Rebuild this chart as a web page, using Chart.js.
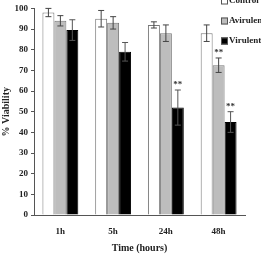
<!DOCTYPE html>
<html>
<head>
<meta charset="utf-8">
<script src="https://cdn.jsdelivr.net/npm/chart.js@4.4.0/dist/chart.umd.min.js"></script>
<style>
    html, body { margin: 0; padding: 0; background: #fff; }
    #wrap { width: 261px; height: 256px; }
</style>
</head>
<body>
<div id="wrap"><canvas id="chart" width="261" height="256"></canvas></div>
<script>
// Data
const timePoints = ['1h', '5h', '24h', '48h'];
const controlValues = [98, 95, 92, 88];
const avirulentValues = [94, 93, 88, 72.5];
const virulentValues = [89.5, 79, 52, 45];
const controlErrors = [2, 4, 1.5, 4];
const avirulentErrors = [2.5, 3, 4, 3.5];
const virulentErrors = [5, 4.5, 8.5, 5];
const controlSig = [false, false, false, false];
const avirulentSig = [false, false, false, true];
const virulentSig = [false, false, true, true];
const yTicks = [0, 10, 20, 30, 40, 50, 60, 70, 80, 90, 100];

const serif = '"Liberation Serif", "DejaVu Serif", serif';
const errors = [controlErrors, avirulentErrors, virulentErrors];
const sigs = [controlSig, avirulentSig, virulentSig];

// Error bars and ** markers
const errorBars = {
    id: 'errorBars',
    afterDatasetsDraw(chart) {
        const ctx = chart.ctx;
        const y = chart.scales.y;
        ctx.save();
        chart.data.datasets.forEach((ds, i) => {
            const meta = chart.getDatasetMeta(i);
            meta.data.forEach((bar, j) => {
                const v = ds.data[j];
                const e = errors[i][j];
                const top = y.getPixelForValue(v + e);
                const bot = y.getPixelForValue(v - e);
                ctx.strokeStyle = i === 2 ? '#555' : '#444';
                ctx.lineWidth = 1;
                ctx.beginPath();
                ctx.moveTo(bar.x, top);
                ctx.lineTo(bar.x, bot);
                ctx.moveTo(bar.x - 3, top);
                ctx.lineTo(bar.x + 3, top);
                ctx.moveTo(bar.x - 3, bot);
                ctx.lineTo(bar.x + 3, bot);
                ctx.stroke();
                if (sigs[i][j]) {
                    ctx.fillStyle = '#333';
                    ctx.font = 'bold 9px ' + serif;
                    ctx.textAlign = 'center';
                    ctx.textBaseline = 'bottom';
                    ctx.fillText('**', bar.x, top - 1);
                }
            });
        });
        ctx.restore();
    }
};

// Legend drawn in the top right corner
const cornerLegend = {
    id: 'cornerLegend',
    afterDraw(chart) {
        const ctx = chart.ctx;
        ctx.save();
        ctx.font = 'bold 9px ' + serif;
        ctx.textBaseline = 'middle';
        ctx.textAlign = 'left';
        chart.data.datasets.forEach((ds, i) => {
            const yy = 1 + i * 20;
            ctx.fillStyle = ds.backgroundColor;
            ctx.fillRect(221, yy - 3.5, 7, 7);
            ctx.strokeStyle = '#555';
            ctx.lineWidth = 1;
            ctx.strokeRect(221.5, yy - 3, 6, 6);
            ctx.fillStyle = '#222';
            ctx.fillText(ds.label, 229, yy);
        });
        ctx.restore();
    }
};

new Chart(document.getElementById('chart'), {
    type: 'bar',
    data: {
        labels: timePoints,
        datasets: [
            { label: 'Control', data: controlValues, backgroundColor: '#ffffff', borderColor: '#777', borderWidth: 1 },
            { label: 'Avirulent', data: avirulentValues, backgroundColor: '#bdbdbd', borderColor: '#777', borderWidth: 1 },
            { label: 'Virulent', data: virulentValues, backgroundColor: '#000000', borderColor: '#000', borderWidth: 1 }
        ]
    },
    options: {
        responsive: false,
        animation: false,
        layout: { padding: { top: 1, right: 16, left: 0, bottom: 2 } },
        datasets: { bar: { categoryPercentage: 0.68, barPercentage: 1 } },
        plugins: {
            legend: { display: false },
            tooltip: { enabled: false }
        },
        scales: {
            x: {
                afterFit(scale) { scale.height = 39; },
                grid: { display: false, drawTicks: false },
                border: { color: '#555' },
                ticks: { color: '#222', font: { family: serif, size: 9, weight: 'bold' }, padding: 11 },
                title: { display: true, text: 'Time (hours)', color: '#222', font: { family: serif, size: 10, weight: 'bold' }, padding: { top: 0, bottom: 0 } }
            },
            y: {
                min: 0,
                max: 100,
                afterBuildTicks(scale) { scale.ticks = yTicks.map(v => ({ value: v })); },
                afterFit(scale) { scale.width = 34; },
                grid: { display: true, drawOnChartArea: false, tickLength: 3, color: '#555' },
                border: { color: '#555' },
                ticks: { color: '#222', font: { family: serif, size: 9, weight: 'bold' }, padding: 3 },
                title: { display: true, text: '% Viability', color: '#222', font: { family: serif, size: 10, weight: 'bold' }, padding: 0 }
            }
        }
    },
    plugins: [errorBars, cornerLegend]
});
</script>
</body>
</html>
